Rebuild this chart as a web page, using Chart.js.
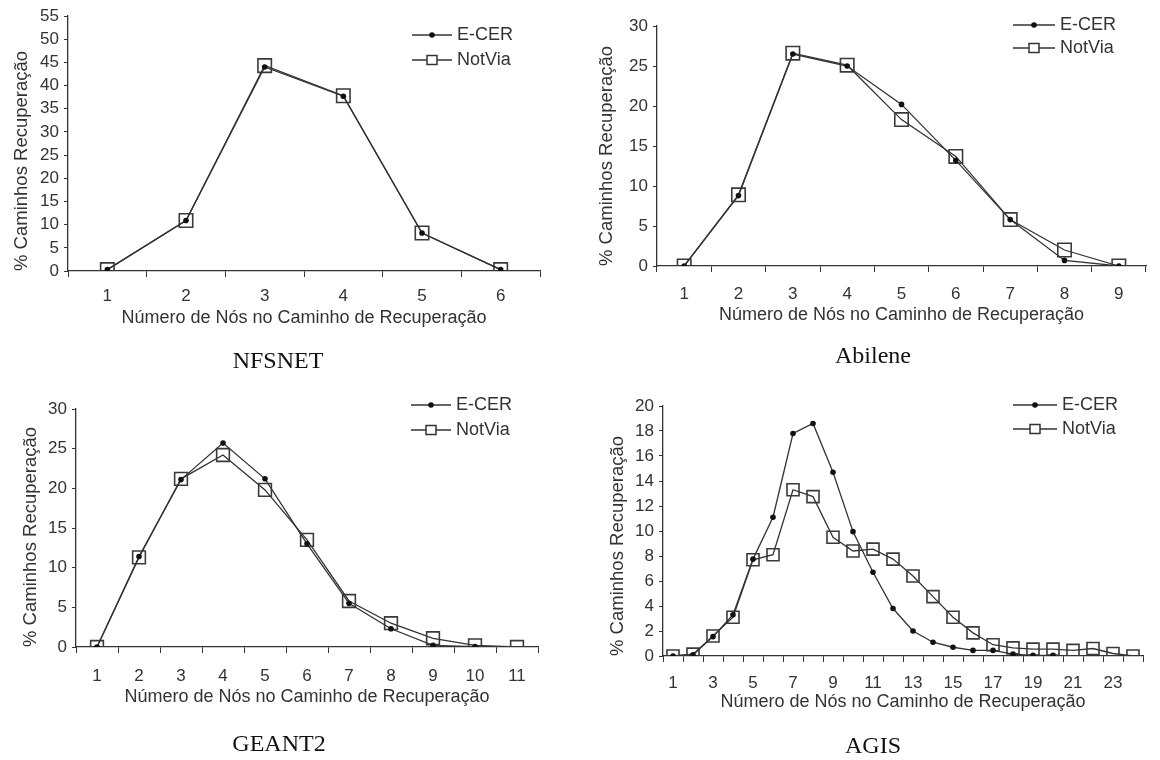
<!DOCTYPE html>
<html>
<head>
<meta charset="utf-8">
<script src="https://cdn.jsdelivr.net/npm/chart.js@4.4.1/dist/chart.umd.min.js"></script>
<style>
  body { margin: 0; background: #fff; }
  #wrap { position: relative; width: 1160px; height: 760px; }
  canvas { position: absolute; }
  .cap { position: absolute; width: 240px; text-align: center; font: 24px "Liberation Serif", "Times New Roman", serif; color: #111; line-height: 28px; }
</style>
</head>
<body>
<div id="wrap">
  <canvas id="nfsnet" width="580" height="380" style="left:0;top:0"></canvas>
  <canvas id="abilene" width="580" height="380" style="left:580px;top:0"></canvas>
  <canvas id="geant2" width="580" height="380" style="left:0;top:380px"></canvas>
  <canvas id="agis" width="580" height="380" style="left:580px;top:380px"></canvas>
  <div class="cap" style="left:158px;top:346px">NFSNET</div>
  <div class="cap" style="left:753px;top:341px">Abilene</div>
  <div class="cap" style="left:159px;top:729px">GEANT2</div>
  <div class="cap" style="left:753px;top:731px">AGIS</div>
</div>
<script>
// Dados
const nfsCats = ['1', '2', '3', '4', '5', '6'];
const nfsEcer = [0.3, 10.9, 44.0, 37.7, 8.2, 0.3];
const nfsNotVia = [0.3, 10.9, 44.3, 37.8, 8.2, 0.3];

const abiCats = ['1', '2', '3', '4', '5', '6', '7', '8', '9'];
const abiEcer = [0, 8.8, 26.5, 25.0, 20.2, 13.2, 5.8, 0.7, 0];
const abiNotVia = [0, 8.9, 26.6, 25.1, 18.3, 13.7, 5.8, 2.0, 0];

const geantCats = ['1', '2', '3', '4', '5', '6', '7', '8', '9', '10', '11'];
const geantEcer = [0, 11.4, 21.1, 25.7, 21.2, 13.0, 5.5, 2.3, 0.2, 0.05, null];
const geantNotVia = [0, 11.3, 21.2, 24.2, 19.8, 13.5, 5.8, 3.0, 1.1, 0.2, 0];

const agisCats = ['1', '2', '3', '4', '5', '6', '7', '8', '9', '10', '11', '12',
                  '13', '14', '15', '16', '17', '18', '19', '20', '21', '22', '23', '24'];
const agisTickLabels = ['1', '', '3', '', '5', '', '7', '', '9', '', '11', '',
                        '13', '', '15', '', '17', '', '19', '', '21', '', '23', ''];
const agisEcer = [0, 0.1, 1.55, 3.3, 7.75, 11.1, 17.8, 18.6, 14.7, 9.95, 6.7, 3.8,
                  2.0, 1.1, 0.7, 0.45, 0.45, 0.15, 0.05, 0.05, null, null, null, null];
const agisNotVia = [0, 0.15, 1.6, 3.1, 7.7, 8.1, 13.3, 12.75, 9.5, 8.4, 8.55, 7.75,
                    6.4, 4.75, 3.1, 1.85, 0.9, 0.65, 0.55, 0.55, 0.45, 0.6, 0.2, 0];

const yTitle = '% Caminhos Recuperação';
const xTitle = 'Número de Nós no Caminho de Recuperação';
const ink = '#333';
const sans = '"Liberation Sans", Arial, sans-serif';

// Legenda desenhada dentro da área do gráfico (linha + marcador + texto)
const lineLegend = {
  id: 'lineLegend',
  afterDraw(chart, args, opts) {
    const ctx = chart.ctx;
    ctx.save();
    chart.data.datasets.forEach((ds, i) => {
      const y = opts.y + i * opts.gap;
      const cx = opts.x + opts.len / 2;
      ctx.strokeStyle = ink;
      ctx.lineWidth = 1.4;
      ctx.beginPath();
      ctx.moveTo(opts.x, y);
      ctx.lineTo(opts.x + opts.len, y);
      ctx.stroke();
      if (ds.pointStyle === 'rect') {
        ctx.fillStyle = '#fff';
        ctx.fillRect(cx - 5, y - 4.5, 10, 9);
        ctx.lineWidth = 1.5;
        ctx.strokeRect(cx - 5, y - 4.5, 10, 9);
      } else {
        ctx.fillStyle = '#111';
        ctx.beginPath();
        ctx.arc(cx, y, 2.8, 0, Math.PI * 2);
        ctx.fill();
      }
      ctx.fillStyle = ink;
      ctx.font = '18px ' + sans;
      ctx.textBaseline = 'middle';
      ctx.textAlign = 'left';
      ctx.fillText(ds.label, opts.x + opts.len + 5, y);
    });
    ctx.restore();
  }
};

function makeChart(id, cats, ecer, notvia, box) {
  const ctx = document.getElementById(id).getContext('2d');
  new Chart(ctx, {
    type: 'line',
    data: {
      labels: cats,
      datasets: [{
        label: 'E-CER',
        data: ecer,
        borderColor: ink,
        borderWidth: 1.3,
        pointStyle: 'circle',
        pointRadius: 2.8,
        pointBackgroundColor: '#111',
        pointBorderWidth: 0,
        tension: 0
      }, {
        label: 'NotVia',
        data: notvia,
        borderColor: ink,
        borderWidth: 1.3,
        pointStyle: 'rect',
        pointRadius: box.sq,
        pointBackgroundColor: 'rgba(0,0,0,0)',
        pointBorderColor: '#3a3a3a',
        pointBorderWidth: 1.6,
        tension: 0
      }]
    },
    options: {
      responsive: false,
      animation: false,
      layout: { padding: { left: 0, top: box.top, right: 580 - box.right, bottom: 0 } },
      plugins: {
        legend: { display: false },
        tooltip: { enabled: false },
        lineLegend: box.legend
      },
      scales: {
        x: {
          offset: true,
          grid: { offset: true, drawOnChartArea: false, drawTicks: true, tickLength: 6, color: ink },
          border: { color: ink, width: 1.3 },
          ticks: {
            autoSkip: false, maxRotation: 0, padding: box.xPad, color: ink,
            font: { family: sans, size: 17 },
            callback: (v, i) => box.tickLabels ? box.tickLabels[i] : cats[i]
          },
          title: {
            display: true, text: xTitle, color: ink,
            font: { family: sans, size: 18 },
            padding: { top: 0, bottom: box.xTitlePad }
          },
          afterFit: s => { s.height = 380 - box.bottom; }
        },
        y: {
          min: 0, max: box.max,
          grid: { drawOnChartArea: false, drawTicks: true, tickLength: 4, color: ink },
          border: { color: ink, width: 1.3 },
          ticks: {
            stepSize: box.step, padding: 5, color: ink, autoSkip: false, maxTicksLimit: 40,
            font: { family: sans, size: 17, lineHeight: 1 }
          },
          title: {
            display: true, text: yTitle, color: ink, align: 'start',
            font: { family: sans, size: 18.5 },
            padding: { top: box.yTitlePad, bottom: 0 }
          },
          afterFit: s => { s.width = box.left; }
        }
      }
    },
    plugins: [lineLegend]
  });
}

makeChart('nfsnet', nfsCats, nfsEcer, nfsNotVia, {
  left: 68, right: 540, top: 16, bottom: 271, max: 55, step: 5, sq: 9.5,
  xPad: 9, xTitlePad: 51, yTitlePad: 11,
  legend: { x: 412, y: 35, gap: 25, len: 40 }
});
makeChart('abilene', abiCats, abiEcer, abiNotVia, {
  left: 77, right: 566, top: 26, bottom: 266, max: 30, step: 5, sq: 9.5,
  xPad: 12, xTitlePad: 54, yTitlePad: 16,
  legend: { x: 433, y: 25, gap: 23, len: 42 }
});
makeChart('geant2', geantCats, geantEcer, geantNotVia, {
  left: 76, right: 538, top: 29, bottom: 267, max: 30, step: 5, sq: 9,
  xPad: 13, xTitlePad: 52, yTitlePad: 20,
  legend: { x: 411, y: 25, gap: 25, len: 40 }
});
makeChart('agis', agisCats, agisEcer, agisNotVia, {
  left: 83, right: 563, top: 26, bottom: 276, max: 20, step: 2, sq: 8.5,
  xPad: 11, xTitlePad: 47, yTitlePad: 27,
  tickLabels: agisTickLabels,
  legend: { x: 433, y: 25, gap: 24, len: 44 }
});
</script>
</body>
</html>
